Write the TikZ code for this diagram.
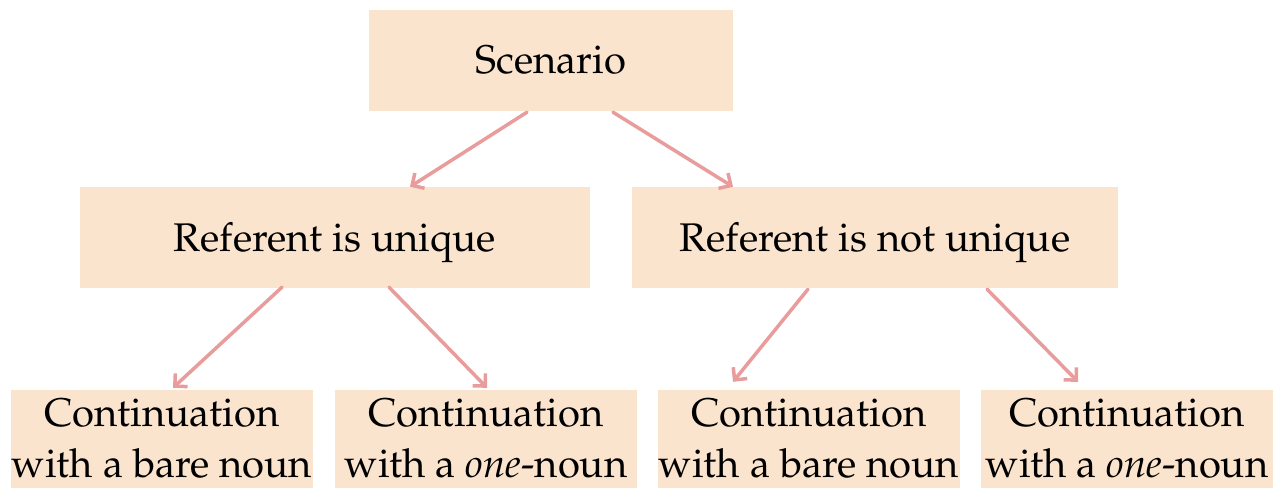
\documentclass[tikz,border=0pt]{standalone}
\usepackage[T1]{fontenc}
\usepackage{mathpazo}
\usetikzlibrary{arrows.meta,calc}
\definecolor{boxfill}{HTML}{FBE4CD}
\definecolor{arrowcol}{HTML}{E89C9C}
\begin{document}
\begin{tikzpicture}[x=1pt,y=-1pt,
  box/.style={fill=boxfill,draw=none,inner sep=0pt,align=center,
    font=\fontsize{40}{51}\selectfont},
  conn/.style={draw=arrowcol,line width=3.5pt,line cap=round,
    -{Straight Barb[length=9pt,width=18pt,line width=3.5pt]}}]
\useasboundingbox (0,0) rectangle (1281,488);
\node[box,minimum width=364pt,minimum height=101pt] (scen) at (551,60.5) {Scenario};
\node[box,minimum width=510pt,minimum height=101pt,text depth=0pt] (uniq) at (335,237.5) {Referent is unique};
\node[box,minimum width=486pt,minimum height=101pt,text depth=0pt] (nuniq) at (875,237.5) {Referent is not unique};
\node[box,minimum width=302pt,minimum height=98pt] (b1) at (162,439) {Continuation\\with a bare noun};
\node[box,minimum width=302pt,minimum height=98pt] (b2) at (486,439) {Continuation\\with a \textit{one}-noun};
\node[box,minimum width=302pt,minimum height=98pt] (b3) at (809,439) {Continuation\\with a bare noun};
\node[box,minimum width=292pt,minimum height=98pt] (b4) at (1127,439) {Continuation\\with a \textit{one}-noun};
\draw[conn] ($(scen.south)+(-24,1)$) -- ($(uniq.north)+(75,0)$);
\draw[conn] ($(scen.south)+(62,1)$) -- ($(nuniq.north)+(-142,0)$);
\draw[conn] ($(uniq.south)+(-53,-1)$) -- ($(b1.north)+(11,-2)$);
\draw[conn] ($(uniq.south)+(54,-1)$) -- ($(b2.north)+(1,-2)$);
\draw[conn] ($(nuniq.south)+(-67,1)$) -- ($(b3.north)+(-76,-8)$);
\draw[conn] ($(nuniq.south)+(112,1)$) -- ($(b4.north)+(-49,-8)$);
\end{tikzpicture}
\end{document}
